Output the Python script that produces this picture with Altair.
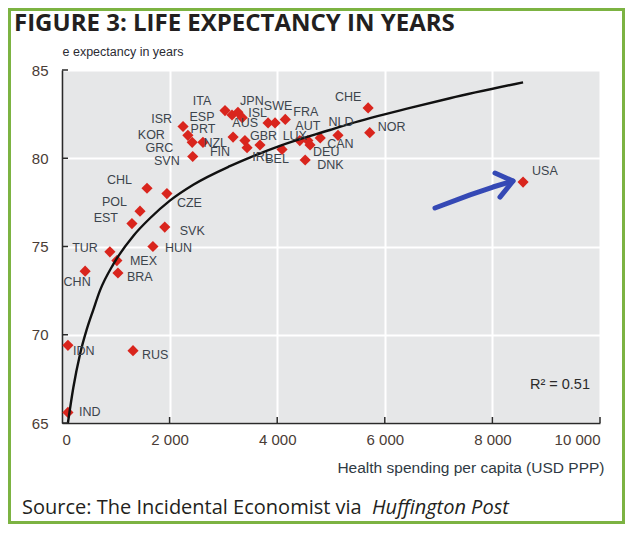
import altair as alt
import pandas as pd

# ---------------- data ----------------
countries = ["IND", "IDN", "RUS", "CHN", "BRA", "MEX", "TUR", "HUN", "SVK", "EST",
             "POL", "CHL", "CZE", "ISR", "KOR", "GRC", "SVN", "PRT", "ITA", "ESP",
             "JPN", "ISL", "NZL", "GBR", "FIN", "IRL", "AUS", "SWE", "FRA", "BEL",
             "LUX", "AUT", "DEU", "CAN", "NLD", "DNK", "CHE", "NOR", "USA"]
spending = [110, 110, 1320, 430, 1040, 1020, 890, 1690, 1910, 1300,
            1450, 1580, 1950, 2250, 2340, 2420, 2430, 2620, 3030, 3160,
            3270, 3350, 3180, 3400, 3440, 3680, 3830, 3960, 4150, 4090,
            4420, 4570, 4610, 4800, 5130, 4520, 5690, 5720, 8570]
life_expectancy = [65.6, 69.4, 69.1, 73.6, 73.5, 74.2, 74.7, 75.0, 76.1, 76.3,
                   77.0, 78.3, 78.0, 81.8, 81.3, 80.9, 80.1, 80.9, 82.7, 82.45,
                   82.6, 82.3, 81.2, 81.0, 80.6, 80.75, 82.0, 82.0, 82.2, 80.5,
                   81.0, 81.0, 80.75, 81.15, 81.3, 79.9, 82.85, 81.45, 78.65]

# trend curve
trend_x = [110, 210, 335, 460, 580, 705, 955, 1325, 1635, 2005, 2440, 3120,
           3500, 4050, 4980, 5350, 6470, 7210, 8570]
trend_y = [65.0, 67.0, 68.9, 70.3, 71.4, 72.5, 74.0, 75.6, 76.6, 77.6, 78.5, 79.55,
           80.05, 80.7, 81.6, 81.95, 82.85, 83.4, 84.3]

# label placement (pixel offsets from each point, and text alignment)
label_align = ["left", "left", "left", "center", "left", "left", "right", "left", "left", "right",
               "right", "right", "left", "right", "right", "right", "right", "center", "center", "center",
               "center", "left", "right", "left", "right", "center", "right", "center", "left", "center",
               "center", "center", "left", "left", "center", "left", "center", "left", "left"]
label_dx = [11, 5, 9, -8, 9, 13, -12, 12, 15, -14,
            -13, -15, 10, -11, -23, -19, -13, 0, -23, -30,
            14, 6, -6, 5, -17, 2, -10, 3, 8, -5,
            -5, 0, 3, 7, 3, 12, -20, 8, 9]
label_dy = [0, 6, 4, 11, 4, 0, -4, 1, 4, -6,
            -9, -8, 9, -7, 0, 6, 5, -13, -10, 2,
            -11, -5, 6, -5, 4, 12, 0, -17, -7, 10,
            -5, -15, 7, 6, -13, 5, -11, -6, -11]

x_ticks = [0, 2000, 4000, 6000, 8000, 10000]
y_ticks = [65, 70, 75, 80, 85]

# hand-drawn blue arrow pointing at the USA (data units)
arrow_x = [6933, 7584, 8011, 8383, 8048, 8383, 8141]
arrow_y = [77.18, 77.92, 78.37, 78.71, 79.16, 78.71, 77.80]
arrow_seg = [0, 0, 0, 0, 1, 1, 1]

title_text = "FIGURE 3: LIFE EXPECTANCY IN YEARS"
y_title = "e expectancy in years"
x_title = "Health spending per capita (USD PPP)"
r2_text = "R² = 0.51"
source_text = "Source: The Incidental Economist via"
source_italic = "Huffington Post"

# ---------------- frames ----------------
df = pd.DataFrame({
    "country": countries,
    "spend": spending,
    "life": life_expectancy,
    "align": label_align,
    "dx": label_dx,
    "dy": label_dy,
})
trend_df = pd.DataFrame({"spend": trend_x, "life": trend_y})
arrow_df = pd.DataFrame({"spend": arrow_x, "life": arrow_y, "seg": arrow_seg,
                         "ord": list(range(len(arrow_x)))})
xt_df = pd.DataFrame({"spend": x_ticks[1:]})
yt_df = pd.DataFrame({"life": y_ticks})
one = pd.DataFrame({"a": [0]})

W, H = 538, 353
XD, YD = [0, 10000], [65, 85]
LBL_FONT = "Liberation Sans, Arial"

xscale = alt.Scale(domain=XD, nice=False, zero=False)
yscale = alt.Scale(domain=YD, nice=False, zero=False)

X_AXIS = alt.Axis(values=x_ticks, title=x_title,
                  labelExpr="replace(format(datum.value, ','), ',', ' ')",
                  labelPadding=9,
                  titleFontSize=15.5, titleAnchor="end", titleAlign="right",
                  titleX=542, titleY=49, titleBaseline="alphabetic")
Y_AXIS = alt.Axis(values=y_ticks, title=y_title,
                  labelPadding=14,
                  titleFontSize=12.5, titleAngle=0, titleAlign="left",
                  titleX=0, titleY=-15, titleBaseline="alphabetic", titleColor="#2b2b33")

base = alt.Chart(df)

points = base.mark_point(shape="diamond", filled=True, size=125, color="#d9251d",
                         opacity=1).encode(
    x=alt.X("spend:Q", scale=xscale, axis=X_AXIS),
    y=alt.Y("life:Q", scale=yscale, axis=Y_AXIS),
)

fit = alt.Chart(trend_df).mark_line(color="#111111", strokeWidth=2.4,
                                    interpolate="monotone").encode(
    x=alt.X("spend:Q", scale=xscale, axis=X_AXIS),
    y=alt.Y("life:Q", scale=yscale, axis=Y_AXIS),
)

def label_layer(al):
    return base.transform_filter(alt.datum.align == al).transform_calculate(
        lx=f"datum.spend + datum.dx * {(XD[1] - XD[0]) / W}",
        ly=f"datum.life - datum.dy * {(YD[1] - YD[0]) / H}",
    ).mark_text(
        align=al, baseline="middle", font=LBL_FONT, fontSize=12.5, color="#3c444c").encode(
        x=alt.X("lx:Q", scale=xscale, axis=X_AXIS),
        y=alt.Y("ly:Q", scale=yscale, axis=Y_AXIS),
        text="country:N",
    )

labels = [label_layer(a) for a in ["left", "center", "right"]]

xticks = alt.Chart(xt_df).mark_rule(color="#2a2a2a", strokeWidth=1.5).encode(
    x=alt.X("spend:Q", scale=xscale, axis=X_AXIS),
    y=alt.value(H), y2=alt.value(H - 6))
yticks = alt.Chart(yt_df).mark_rule(color="#2a2a2a", strokeWidth=1.5).encode(
    y=alt.Y("life:Q", scale=yscale, axis=Y_AXIS),
    x=alt.value(0), x2=alt.value(6))

arrow = alt.Chart(arrow_df).mark_line(color="#3549b5", strokeWidth=5, strokeCap="round",
                                      strokeJoin="round").encode(
    x=alt.X("spend:Q", scale=xscale, axis=X_AXIS),
    y=alt.Y("life:Q", scale=yscale, axis=Y_AXIS),
    detail="seg:N", order="ord:Q")

r2 = alt.Chart(one).mark_text(text=r2_text, align="right", baseline="alphabetic",
                              font=LBL_FONT, fontSize=14.5, color="#2b2b2b").encode(
    x=alt.value(528), y=alt.value(319))

title = alt.Chart(one).mark_text(text=title_text, align="left", baseline="alphabetic",
                                 font="Open Sans", fontWeight="bold", fontSize=24,
                                 color="#231f20").encode(
    x=alt.value(-48), y=alt.value(-39))

src1 = alt.Chart(one).mark_text(text=source_text, align="left", baseline="alphabetic",
                                font="Open Sans", fontSize=20, color="#231f20").encode(
    x=alt.value(-40), y=alt.value(444))
src2 = alt.Chart(one).mark_text(text=source_italic, align="left", baseline="alphabetic",
                                font="Open Sans", fontStyle="italic", fontSize=20,
                                color="#231f20").encode(
    x=alt.value(310), y=alt.value(444))

border = alt.Chart(one).mark_rect(fill="transparent", stroke="#7cb342", strokeWidth=3).encode(
    x=alt.value(-52.5), x2=alt.value(561.5), y=alt.value(-60.5), y2=alt.value(452.5))

chart = alt.layer(points, fit, xticks, yticks, *labels, arrow, r2, title, src1, src2,
                  border).properties(
    width=W, height=H,
    padding=0,
    background="white",
).configure_view(fill="#e6e7e8", stroke=None).configure_axis(
    grid=True, gridColor="white", gridWidth=2,
    domainColor="#2a2a2a", domainWidth=1.6, ticks=False,
    labelFont=LBL_FONT, labelFontSize=15, labelColor="#4a3c36",
    titleFont=LBL_FONT, titleFontWeight="normal", titleColor="#2f3a44",
)

chart.save("out.html", embed_options={"renderer": "svg", "actions": False})
